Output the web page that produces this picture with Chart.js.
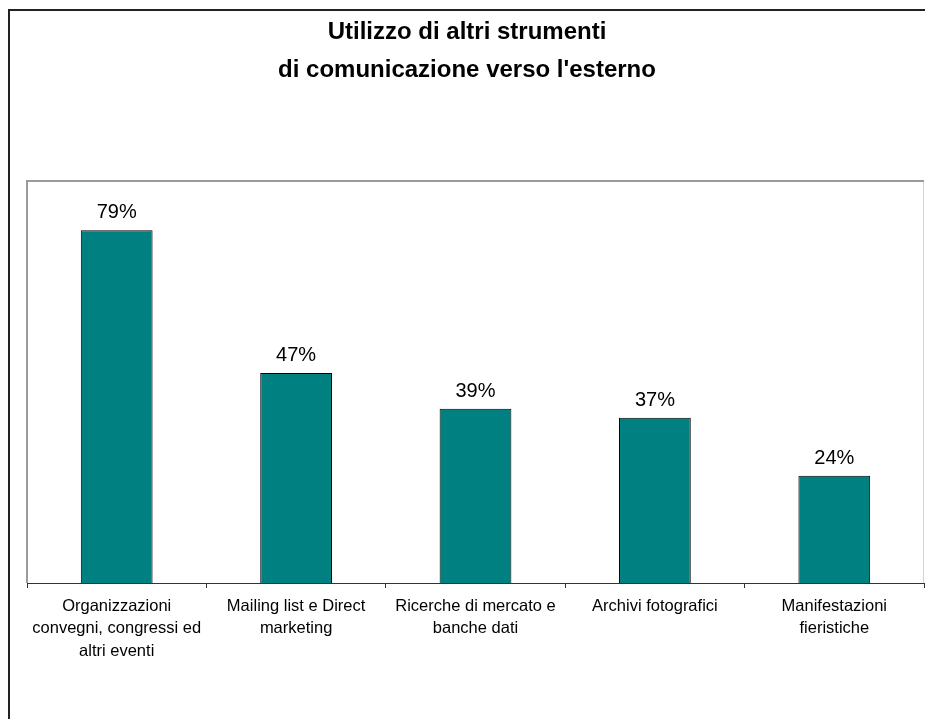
<!DOCTYPE html>
<html lang="it">
<head>
    <meta charset="UTF-8">
    <title>Utilizzo di altri strumenti</title>
    <script src="https://cdn.jsdelivr.net/npm/chart.js"></script>
    <style>
        body { margin: 0; background: #fff; }
        canvas { display: block; }
    </style>
</head>
<body>
    <canvas id="grafico" width="925" height="719"></canvas>

<script>

const titolo = ['Utilizzo di altri strumenti', "di comunicazione verso l'esterno"];
const strumenti = [
  ['Organizzazioni', 'convegni, congressi ed', 'altri eventi'],
  ['Mailing list e Direct', 'marketing'],
  ['Ricerche di mercato e', 'banche dati'],
  ['Archivi fotografici'],
  ['Manifestazioni', 'fieristiche']
];
const percentuali = [79, 47, 39, 37, 24];

const FONT = '"Liberation Sans", Arial, sans-serif';

// cornice esterna e bordo dell'area del grafico
const cornice = {
  id: 'cornice',
  beforeDraw(chart) {
    const c = chart.ctx;
    const a = chart.chartArea;
    c.save();
    c.strokeStyle = '#222';
    c.lineWidth = 2;
    c.beginPath();
    c.moveTo(9, 719);
    c.lineTo(9, 10);
    c.lineTo(925, 10);
    c.stroke();

    c.strokeStyle = '#d4d4d4';
    c.lineWidth = 1;
    c.beginPath();
    c.moveTo(a.right - 0.5, a.top);
    c.lineTo(a.right - 0.5, a.bottom);
    c.stroke();

    c.strokeStyle = '#9a9a9a';
    c.lineWidth = 2;
    c.beginPath();
    c.moveTo(a.left, a.bottom);
    c.lineTo(a.left, a.top);
    c.lineTo(a.right, a.top);
    c.stroke();
    c.restore();
  }
};

// etichette con la percentuale sopra ogni barra
const etichette = {
  id: 'etichette',
  afterDatasetsDraw(chart) {
    const c = chart.ctx;
    const meta = chart.getDatasetMeta(0);
    c.save();
    c.font = '20px ' + FONT;
    c.fillStyle = '#000';
    c.textAlign = 'center';
    c.textBaseline = 'alphabetic';
    meta.data.forEach((bar, i) => {
      c.fillText(percentuali[i] + '%', bar.x, bar.y - 12);
    });
    c.restore();
  }
};

const ctx = document.getElementById('grafico');
const chart = new Chart(ctx, {
  type: 'bar',
  data: {
    labels: strumenti,
    datasets: [{
      data: percentuali,
      backgroundColor: '#008080',
      borderColor: '#000',
      borderWidth: 1,
      categoryPercentage: 1,
      barPercentage: 0.4
    }]
  },
  options: {
    responsive: false,
    devicePixelRatio: 1,
    animation: false,
    layout: {
      padding: { left: 10, right: 1, top: 0, bottom: 0 }
    },
    plugins: {
      legend: { display: false },
      tooltip: { enabled: false },
      title: {
        display: true,
        text: titolo,
        color: '#000',
        font: { family: FONT, size: 24, weight: 'bold', lineHeight: 38 / 24 },
        padding: { top: 13, bottom: 92 }
      }
    },
    scales: {
      x: {
        grid: {
          display: true,
          drawOnChartArea: false,
          drawTicks: true,
          tickLength: 5,
          color: '#333'
        },
        border: { display: true, color: '#333', width: 1 },
        ticks: {
          color: '#000',
          padding: 7,
          maxRotation: 0,
          autoSkip: false,
          font: { family: FONT, size: 16.5, lineHeight: 22.5 / 16.5 }
        },
        afterFit(scale) { scale.height = 136; }
      },
      y: {
        display: true,
        min: 0,
        max: 90,
        grid: { display: false },
        border: { display: false },
        ticks: { display: false },
        afterFit(scale) { scale.width = 17; }
      }
    }
  },
  plugins: [cornice, etichette]
});

</script>
</body>
</html>
